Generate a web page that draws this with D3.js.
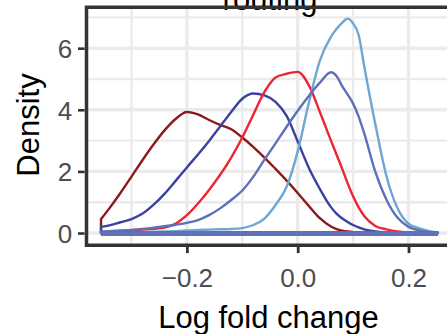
<!DOCTYPE html>
<html><head><meta charset="utf-8">
<script src="https://cdn.jsdelivr.net/npm/d3@7"></script>
<style>html,body{margin:0;padding:0;background:#fff;overflow:hidden}</style>
</head><body>
<svg id="chart" width="447" height="334"></svg>
<script>
// ---- data ----
const xGrid = [-0.355,-0.34,-0.32,-0.30,-0.28,-0.26,-0.24,-0.22,-0.20,-0.18,-0.16,-0.14,-0.12,-0.10,-0.08,-0.06,-0.04,-0.02,0.00,0.02,0.04,0.06,0.07,0.08,0.09,0.10,0.11,0.12,0.14,0.16,0.18,0.20,0.22,0.24,0.253];
const darkRedDensity = [0.45,0.80,1.30,1.83,2.37,2.88,3.34,3.71,3.93,3.85,3.67,3.51,3.37,3.10,2.79,2.45,2.08,1.70,1.30,0.88,0.48,0.21,0.13,0.08,0.05,0.03,0.02,0.01,0,0,0,0,0,0,0];
const darkBlueDensity = [0.20,0.25,0.35,0.45,0.63,0.92,1.28,1.70,2.13,2.55,2.99,3.46,3.93,4.36,4.53,4.47,4.26,3.80,2.97,2.12,1.43,0.84,0.63,0.48,0.36,0.26,0.18,0.12,0.05,0.02,0.01,0,0,0,0];
const redDensity = [0.02,0.04,0.07,0.09,0.11,0.14,0.18,0.31,0.58,0.96,1.40,1.89,2.45,3.10,3.85,4.58,5.05,5.17,5.23,4.80,3.93,3.00,2.55,2.10,1.62,1.19,0.83,0.55,0.23,0.12,0.05,0.02,0.01,0,0];
const lightBlueDensity = [0.01,0.01,0.02,0.02,0.03,0.04,0.05,0.06,0.08,0.10,0.11,0.12,0.13,0.16,0.26,0.47,0.91,1.50,2.65,4.22,5.60,6.37,6.62,6.82,6.96,6.80,6.43,5.42,3.54,1.86,0.81,0.30,0.15,0.05,0.02];
const midBlueDensity = [0.05,0.06,0.08,0.10,0.13,0.17,0.22,0.27,0.33,0.42,0.58,0.80,1.07,1.38,1.83,2.38,2.91,3.45,3.97,4.45,4.88,5.22,5.10,4.78,4.50,4.20,3.78,3.24,1.99,1.09,0.50,0.20,0.08,0.03,0.02];
const seriesList = [darkRedDensity, darkBlueDensity, redDensity, lightBlueDensity, midBlueDensity];
const seriesColors = ["#8b1a1e", "#3a42a0", "#ec2631", "#6fa6d2", "#5d70ba"];
const xTickValues = [-0.2, 0.0, 0.2];
const xTickLabels = ["\u22120.2", "0.0", "0.2"];
const xMinorValues = [-0.3, -0.1, 0.1];
const yTickValues = [0, 2, 4, 6];
const yMinorValues = [1, 3, 5, 7];
const titleText = "routing";
const xTitle = "Log fold change";
const yTitle = "Density";

// ---- drawing ----
const W = 447, H = 334;
const svg = d3.select("#chart");
const font = "'Liberation Sans', Arial, Helvetica, sans-serif";
const x = d3.scaleLinear().domain([-0.385, 0.283]).range([84.4, 454.5]);
const y = d3.scaleLinear().domain([-0.35, 7.35]).range([243.8, 6.6]);
const pL = 86.5, pT = 7.2, pB = 245.3;

svg.append("defs").append("clipPath").attr("id", "pclip")
  .append("rect").attr("x", pL).attr("y", pT).attr("width", W - pL + 20).attr("height", pB - pT);

const grid = svg.append("g").attr("clip-path", "url(#pclip)");
grid.selectAll(".vminor").data(xMinorValues).join("line").attr("class","vminor")
  .attr("x1", d => x(d)).attr("x2", d => x(d)).attr("y1", pT).attr("y2", pB)
  .attr("stroke", "#ebebeb").attr("stroke-width", 2.4);
grid.selectAll(".hminor").data(yMinorValues).join("line").attr("class","hminor")
  .attr("x1", pL).attr("x2", W + 10).attr("y1", d => y(d)).attr("y2", d => y(d))
  .attr("stroke", "#ebebeb").attr("stroke-width", 2.4);
grid.selectAll(".vmajor").data(xTickValues).join("line").attr("class","vmajor")
  .attr("x1", d => x(d)).attr("x2", d => x(d)).attr("y1", pT).attr("y2", pB)
  .attr("stroke", "#ebebeb").attr("stroke-width", 3.4);
grid.selectAll(".hmajor").data(yTickValues).join("line").attr("class","hmajor")
  .attr("x1", pL).attr("x2", W + 10).attr("y1", d => y(d)).attr("y2", d => y(d))
  .attr("stroke", "#ebebeb").attr("stroke-width", 3.4);

const area = d3.area()
  .x((d, i) => x(xGrid[i]))
  .y0(y(0))
  .y1(d => y(d))
  .curve(d3.curveMonotoneX);

const curves = svg.append("g").attr("clip-path", "url(#pclip)");
seriesList.forEach((s, k) => {
  curves.append("path").attr("d", area(s))
    .attr("fill", "none").attr("stroke", seriesColors[k])
    .attr("stroke-width", 2.4).attr("stroke-linejoin", "round");
});
seriesList.forEach((s, k) => {
  curves.append("line")
    .attr("x1", x(xGrid[0])).attr("x2", x(xGrid[xGrid.length - 1]))
    .attr("y1", y(0) + 0.8).attr("y2", y(0) + 0.8)
    .attr("stroke", seriesColors[k]).attr("stroke-width", 4.6).attr("opacity", k === seriesList.length - 1 ? 0.9 : 0.6);
});

// title (partly hidden under border as in reference)
svg.append("text").attr("x", 270).attr("y", 9.5).attr("text-anchor", "middle")
  .attr("font-family", font).attr("font-size", 31).attr("fill", "#000").text(titleText);

// panel border
svg.append("path")
  .attr("d", `M${W + 10},${pT} L${pL},${pT} L${pL},${pB} L${W + 10},${pB}`)
  .attr("fill", "none").attr("stroke", "#333333").attr("stroke-width", 3.5);

// axes
const yAxis = d3.axisLeft(y).tickValues(yTickValues).tickSize(6.6).tickPadding(5.8).tickFormat(d3.format("d"));
const gy = svg.append("g").attr("transform", "translate(84.6,0)").call(yAxis);
gy.select(".domain").remove();
gy.selectAll(".tick line").attr("stroke", "#333333").attr("stroke-width", 2.6);
gy.selectAll(".tick text").attr("font-family", font).attr("font-size", 26).attr("fill", "#4d4d4d").attr("dy", "0.36em");

const xAxis = d3.axisBottom(x).tickValues(xTickValues).tickSize(6.3).tickPadding(15.5)
  .tickFormat((d, i) => xTickLabels[i]);
const gx = svg.append("g").attr("transform", "translate(0,246.8)").call(xAxis);
gx.select(".domain").remove();
gx.selectAll(".tick line").attr("stroke", "#333333").attr("stroke-width", 2.8);
gx.selectAll(".tick text").attr("font-family", font).attr("font-size", 26).attr("fill", "#4d4d4d");

svg.append("text").attr("x", 268.5).attr("y", 327.5).attr("text-anchor", "middle")
  .attr("font-family", font).attr("font-size", 31).attr("fill", "#000").text(xTitle);
svg.append("text").attr("transform", "translate(38.5,125) rotate(-90)").attr("text-anchor", "middle")
  .attr("font-family", font).attr("font-size", 31).attr("fill", "#000").text(yTitle);
</script>
</body></html>
